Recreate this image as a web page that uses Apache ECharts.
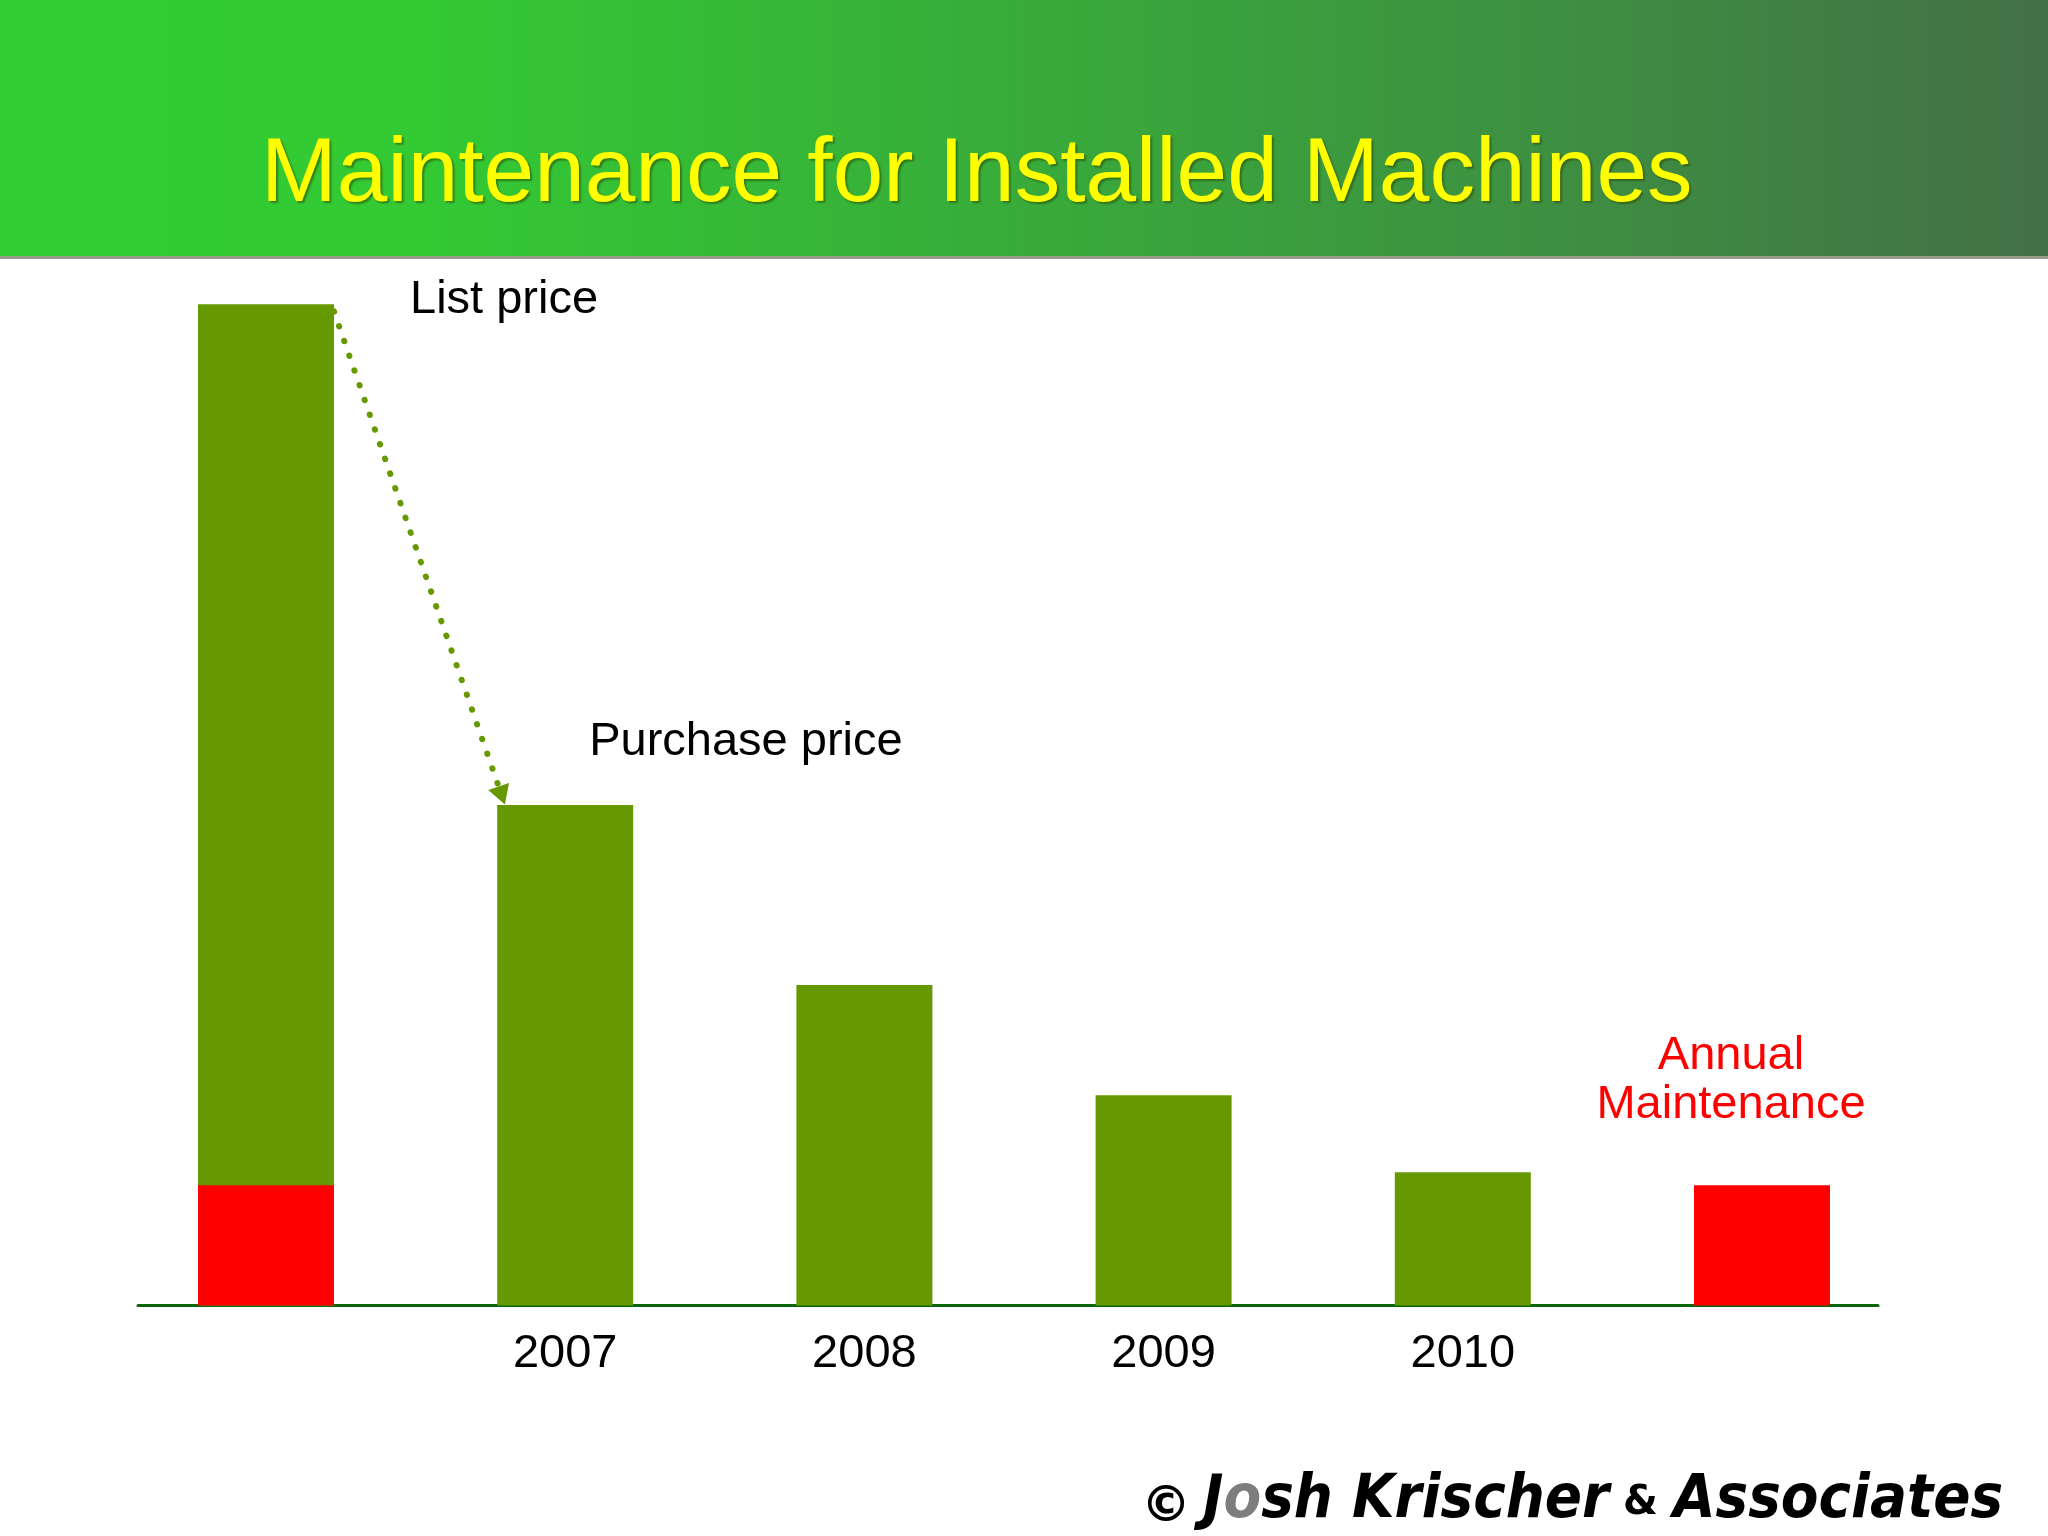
<!DOCTYPE html>
<html>
<head>
<meta charset="utf-8">
<style>
html,body{margin:0;padding:0;background:#ffffff;}
#chart{width:2048px;height:1536px;}
</style>
<script src="https://cdn.jsdelivr.net/npm/echarts@6/dist/echarts.min.js"></script>
</head>
<body>
<div id="chart"></div>
<script>
// ---- data ----
const categories = ['List price', '2007', '2008', '2009', '2010', 'Annual Maintenance'];
const yearLabels = ['', '2007', '2008', '2009', '2010', ''];
const totalPrice = [100, 50, 32, 21, 13.3, null];       // green bars (list price, then purchase / yearly value)
const maintenance = [12, null, null, null, null, 12];   // red bars (annual maintenance)
const listPrice = 100;
const purchasePrice = 50;

// ---- styles ----
const GREEN = '#669900';
const RED = '#ff0000';
const SANS = '"Liberation Sans", Arial, sans-serif';

const chart = echarts.init(document.getElementById('chart'), null, {renderer: 'canvas'});

const greenData = totalPrice.map((v, i) => {
  const item = {value: [i, v == null ? '-' : v]};
  if (i === 0) {
    item.label = {
      show: true, formatter: 'List price', position: [212, -4],
      align: 'left', verticalAlign: 'middle',
      color: '#000', fontFamily: SANS, fontSize: 47
    };
  } else if (i === 1) {
    item.label = {
      show: true, formatter: 'Purchase price', position: [92, -63],
      align: 'left', verticalAlign: 'middle',
      color: '#000', fontFamily: SANS, fontSize: 47
    };
  }
  return item;
});

const redData = maintenance.map((v, i) => {
  const item = {value: [i, v == null ? '-' : v]};
  if (i === categories.length - 1) {
    item.label = {
      show: true,
      formatter: 'Annual\nMaintenance',
      position: [37, -154],
      align: 'center',
      verticalAlign: 'top',
      color: RED,
      fontFamily: SANS,
      fontSize: 47,
      lineHeight: 49
    };
  }
  return item;
});

const option = {
  backgroundColor: '#ffffff',
  animation: false,
  grid: {left: 138, right: 170, top: 304.3, bottom: 230.5, outerBoundsMode: 'none', containLabel: false},
  xAxis: {
    type: 'value',
    min: -0.4278,
    max: 5.3877,
    splitLine: {show: false},
    axisTick: {show: false},
    axisLine: {show: true, onZero: true, lineStyle: {color: '#0b650b', width: 3}},
    axisLabel: {
      show: true,
      customValues: yearLabels.map((t, i) => t ? i : null).filter(v => v !== null),
      formatter: v => yearLabels[Math.round(v)] || '',
      margin: 25,
      color: '#000',
      fontFamily: SANS,
      fontSize: 47
    }
  },
  yAxis: {
    type: 'value',
    min: 0,
    max: 100,
    show: false,
    splitLine: {show: false}
  },
  series: [
    {
      name: 'Price',
      type: 'bar',
      barWidth: 136,
      itemStyle: {color: GREEN},
      data: greenData,
      z: 2,
      markLine: {
        silent: true,
        symbol: ['none', 'triangle'],
        symbolSize: [22, 19],
        label: {show: false},
        lineStyle: {color: GREEN, width: 6, type: [0.5, 15.1], cap: 'round'},
        data: [[
          {coord: [0 + 0.227, listPrice - 0.7]},
          {coord: [1 - 0.212, purchasePrice + 0.94]}
        ]]
      }
    },
    {
      name: 'Annual Maintenance',
      type: 'bar',
      barWidth: 136,
      barGap: '-100%',
      itemStyle: {color: RED},
      data: redData,
      z: 3
    }
  ],
  graphic: [
    {
      type: 'rect', z: -10, silent: true,
      shape: {x: 0, y: 0, width: 2048, height: 256},
      style: {
        fill: {
          type: 'linear', x: 0, y: 0, x2: 1, y2: 0,
          colorStops: [
            {offset: 0, color: '#33cc33'},
            {offset: 0.2, color: '#33ca33'},
            {offset: 0.5, color: '#38ab3a'},
            {offset: 0.78, color: '#3e8d42'},
            {offset: 1, color: '#437046'}
          ]
        }
      }
    },
    {
      type: 'rect', z: -9, silent: true,
      shape: {x: 0, y: 256, width: 2048, height: 3},
      style: {fill: '#9c9c8c'}
    },
    {
      type: 'text', silent: true,
      x: 261, y: 176,
      style: {
        text: 'Maintenance for Installed Machines',
        x: 0, y: 0,
        fill: '#ffff00',
        font: '91px ' + SANS,
        verticalAlign: 'middle',
        align: 'left',
        textShadowColor: 'rgba(40,70,0,0.55)',
        textShadowOffsetX: 2,
        textShadowOffsetY: 2,
        textShadowBlur: 2
      }
    },
    {
      type: 'text', silent: true,
      x: 1166, y: 1508,
      style: {
        text: '\u00a9', x: 0, y: 0, fill: '#000',
        font: 'bold 50px "DejaVu Sans", sans-serif',
        align: 'center', verticalAlign: 'middle'
      }
    },
    {
      type: 'text', silent: true,
      x: 1203, y: 1501, scaleX: 0.9, scaleY: 1,
      style: {
        text: '{a|J}{b|o}{a|sh Krischer}',
        x: 0, y: 0,
        align: 'left', verticalAlign: 'middle',
        rich: {
          a: {fill: '#000', font: 'italic bold 61px "DejaVu Sans", sans-serif'},
          b: {fill: '#7d7d7d', font: 'italic bold 61px "DejaVu Sans", sans-serif'}
        }
      }
    },
    {
      type: 'text', silent: true,
      x: 1623, y: 1504,
      style: {
        text: '&', x: 0, y: 0, fill: '#000',
        font: 'bold 40px "DejaVu Sans", sans-serif',
        align: 'left', verticalAlign: 'middle'
      }
    },
    {
      type: 'text', silent: true,
      x: 1673, y: 1501, scaleX: 0.9, scaleY: 1,
      style: {
        text: 'Associates', x: 0, y: 0, fill: '#000',
        font: 'italic bold 61px "DejaVu Sans", sans-serif',
        align: 'left', verticalAlign: 'middle'
      }
    }
  ]
};

chart.setOption(option);
</script>
</body>
</html>
